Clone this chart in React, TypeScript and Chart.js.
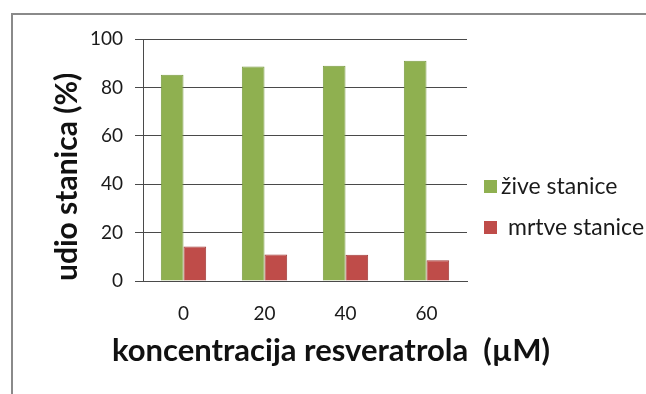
import React, { useEffect, useRef } from "react";
import { Chart, registerables } from "chart.js";

Chart.register(...registerables);

const categories = ["0", "20", "40", "60"];
const liveCells = [85.2, 88.6, 88.9, 91.0];
const deadCells = [14.3, 10.9, 10.8, 8.6];
const seriesNames = ["žive stanice", "mrtve stanice"];
const yMin = 0;
const yMax = 100;
const yStep = 20;
const xTitle = "koncentracija resveratrola  (µM)";
const yTitle = "udio stanica (%)";

const FONT = "Lato, 'Open Sans', sans-serif";

const sideLegend = {
  id: "sideLegend",
  afterDraw(chart: any) {
    const ctx = chart.ctx;
    const rows = [
      { box: [484, 180, 13, 13], textX: 501, textY: 187 },
      { box: [484, 221, 13, 13], textX: 508, textY: 228 },
    ];
    ctx.save();
    chart.data.datasets.forEach((ds: any, i: number) => {
      const r = rows[i];
      if (!r) return;
      ctx.fillStyle = ds.backgroundColor;
      ctx.fillRect(r.box[0], r.box[1], r.box[2], r.box[3]);
      ctx.fillStyle = "#1a1a1a";
      ctx.font = `23px ${FONT}`;
      ctx.textBaseline = "middle";
      ctx.textAlign = "left";
      ctx.fillText(ds.label, r.textX, r.textY);
    });
    // x axis title (wider than the plot area)
    ctx.fillStyle = "#111";
    ctx.font = `bold 31px ${FONT}`;
    ctx.textAlign = "center";
    ctx.textBaseline = "middle";
    ctx.fillText(xTitle, 331, 351);
    ctx.restore();
  },
};

export default function App() {
  const ref = useRef<HTMLCanvasElement | null>(null);

  useEffect(() => {
    if (!ref.current) return;
    const chart = new Chart(ref.current, {
      type: "bar",
      data: {
        labels: categories,
        datasets: [
          {
            label: seriesNames[0],
            data: liveCells,
            backgroundColor: "#8FB050",
            borderColor: "#7A9A40",
            borderWidth: 1,
            barPercentage: 1,
            categoryPercentage: 0.56,
          },
          {
            label: seriesNames[1],
            data: deadCells,
            backgroundColor: "#BF4C49",
            borderColor: "#A03C3A",
            borderWidth: 1,
            barPercentage: 1,
            categoryPercentage: 0.56,
          },
        ],
      },
      options: {
        responsive: false,
        animation: false,
        devicePixelRatio: 1,
        layout: { padding: { top: 39, right: 179, bottom: 0, left: 0 } },
        plugins: {
          legend: { display: false },
          tooltip: { enabled: false },
        },
        scales: {
          x: {
            grid: { display: false, drawTicks: false },
            border: { display: true, color: "#4a4a4a", width: 1 },
            ticks: {
              font: { family: FONT, size: 19 },
              color: "#1a1a1a",
              padding: 21,
            },
            title: { display: false },
            afterFit: (s: any) => {
              s.height = 113;
            },
          },
          y: {
            min: yMin,
            max: yMax,
            ticks: {
              stepSize: yStep,
              font: { family: FONT, size: 19 },
              color: "#1a1a1a",
              padding: 12,
            },
            grid: { color: "#4a4a4a", lineWidth: 1, tickLength: 8, drawTicks: true },
            border: { display: true, color: "#4a4a4a", width: 1 },
            title: {
              display: true,
              text: yTitle,
              align: "start",
              font: { family: FONT, size: 30, weight: "bold" },
              color: "#111",
              padding: { top: 49, bottom: 0 },
            },
            afterFit: (s: any) => {
              s.width = 143;
            },
          },
        },
      },
      plugins: [sideLegend],
    } as any);
    return () => chart.destroy();
  }, []);

  return (
    <div
      style={{
        position: "fixed",
        left: 0,
        top: 0,
        width: 646,
        height: 394,
        background: "#fff",
        overflow: "hidden",
      }}
    >
      <div
        style={{
          position: "absolute",
          left: 11,
          top: 13,
          width: 640,
          height: 380,
          borderLeft: "2px solid #8a8a8a",
          borderTop: "2px solid #8a8a8a",
        }}
      />
      <canvas
        ref={ref}
        width={646}
        height={394}
        style={{ position: "absolute", left: 0, top: 0, width: 646, height: 394 }}
      />
    </div>
  );
}
